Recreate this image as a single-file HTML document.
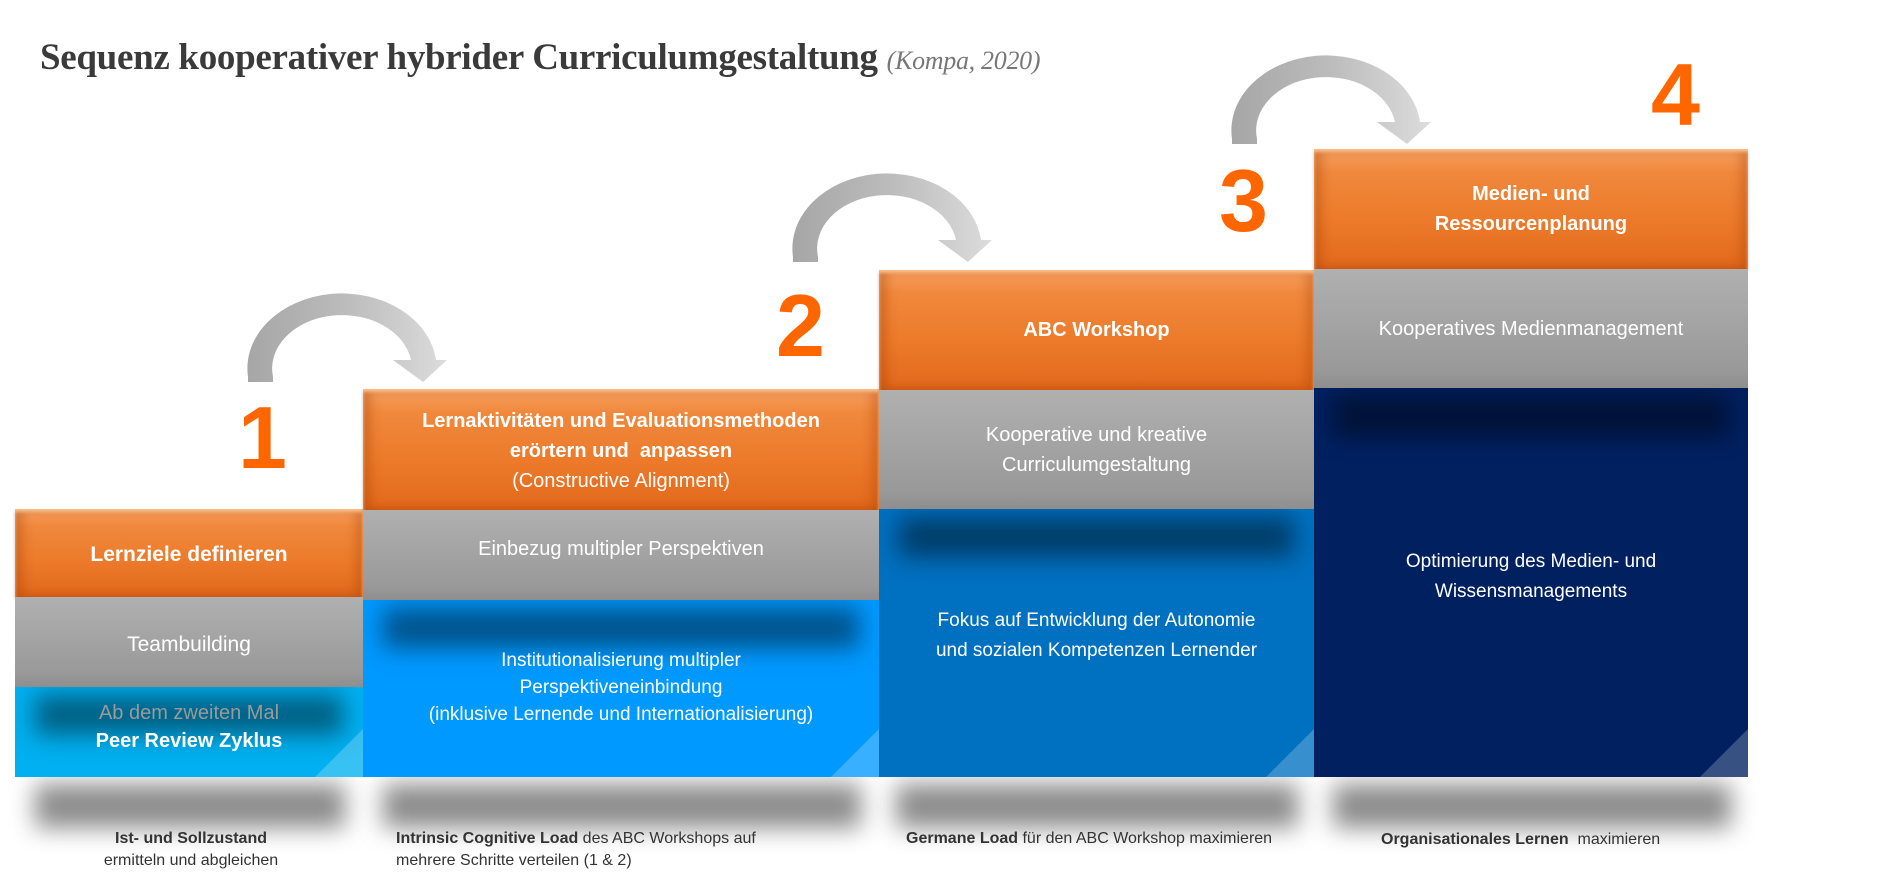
<!DOCTYPE html>
<html><head><meta charset="utf-8"><style>
body{margin:0;width:1899px;height:879px;background:#fff;position:relative;overflow:hidden;font-family:"Liberation Sans",sans-serif}
.a{position:absolute}
.or{position:absolute;background:linear-gradient(#f7a060 0%,#f0883c 20%,#ec7a2a 60%,#e2681c 100%);box-shadow:inset 0 3px 3px #fcc08a,inset 8px 0 10px rgba(160,60,0,.35),inset -8px 0 10px rgba(160,60,0,.3),0 2px 3px rgba(0,0,0,.25)}
.gr{position:absolute;background:linear-gradient(#b0b0b0,#999 85%,#8e8e8e)}
.bl{position:absolute;overflow:hidden}
.bl .sh{position:absolute;left:20px;right:20px;top:8px;height:40px;background:rgba(0,0,0,.45);filter:blur(12px)}
.bl .tri{position:absolute;right:0;bottom:0;width:0;height:0;border-style:solid;border-width:0 0 48px 48px;border-color:transparent transparent rgba(255,255,255,.22) transparent}
.tx{position:absolute;color:#fff;text-align:center;font-family:"Liberation Sans",sans-serif;line-height:30px}
.b{font-weight:bold}
.num{position:absolute;color:#ff6600;font-weight:bold;font-size:88px;line-height:88px;font-family:"Liberation Sans",sans-serif}
.shd{position:absolute;height:44px;background:rgba(0,0,0,.45);filter:blur(12px)}
.lab{position:absolute;font-size:16px;line-height:22px;color:#333}
</style></head><body>
<div class="a" style="left:40px;top:36px;font-family:'Liberation Serif',serif;font-weight:bold;font-size:37px;color:#3a3a3a;white-space:nowrap;letter-spacing:-0.3px">Sequenz kooperativer hybrider Curriculumgestaltung <span style="font-weight:normal;font-style:italic;font-size:26px;color:#777">(Kompa, 2020)</span></div>

<svg class="a" style="left:0;top:0" width="1899" height="879">
<defs><linearGradient id="ag" x1="0" x2="1"><stop offset="0" stop-color="#a6a6a6"/><stop offset="0.5" stop-color="#bcbcbc"/><stop offset="1" stop-color="#dcdcdc"/></linearGradient>
<path id="arr" d="M0,0 L25,0 L25,-5 A68,52 0 0 1 163,-22 L145,-22 L175,0 L199,-22 L188,-22 A92,73 0 0 0 0,-5 Z" fill="url(#ag)"/></defs>
<use href="#arr" transform="translate(248,382)"/>
<use href="#arr" transform="translate(793,262)"/>
<use href="#arr" transform="translate(1232,144)"/>
</svg>

<!-- shadows -->
<div class="shd" style="left:35px;width:310px;top:784px"></div>
<div class="shd" style="left:383px;width:478px;top:784px"></div>
<div class="shd" style="left:896px;width:402px;top:784px"></div>
<div class="shd" style="left:1333px;width:398px;top:784px"></div>

<!-- col1 -->
<div class="or" style="left:15px;top:509px;width:348px;height:88px"></div>
<div class="gr" style="left:15px;top:597px;width:348px;height:90px"></div>
<div class="bl" style="left:15px;top:687px;width:348px;height:90px;background:#00b0f0"><div class="sh"></div><div class="tri"></div></div>
<div class="tx b" style="left:15px;width:348px;top:540px;font-size:21px">Lernziele definieren</div>
<div class="tx" style="left:15px;width:348px;top:630px;font-size:21px">Teambuilding</div>
<div class="tx" style="left:15px;width:348px;top:698px;font-size:20px;color:#9a9a9a">Ab dem zweiten Mal</div>
<div class="tx b" style="left:15px;width:348px;top:726px;font-size:20px">Peer Review Zyklus</div>

<!-- col2 -->
<div class="or" style="left:363px;top:389px;width:516px;height:121px"></div>
<div class="gr" style="left:363px;top:510px;width:516px;height:90px"></div>
<div class="bl" style="left:363px;top:600px;width:516px;height:177px;background:#0099ff"><div class="sh"></div><div class="tri"></div></div>
<div class="tx" style="left:363px;width:516px;top:406px;font-size:20px"><b>Lernaktivitäten und Evaluationsmethoden<br>erörtern und&nbsp; anpassen</b><br>(Constructive Alignment)</div>
<div class="tx" style="left:363px;width:516px;top:534px;font-size:20px">Einbezug multipler Perspektiven</div>
<div class="tx" style="left:363px;width:516px;top:647px;font-size:19px;line-height:27px">Institutionalisierung multipler<br>Perspektiveneinbindung<br>(inklusive Lernende und Internationalisierung)</div>

<!-- col3 -->
<div class="or" style="left:879px;top:270px;width:435px;height:120px"></div>
<div class="gr" style="left:879px;top:390px;width:435px;height:119px"></div>
<div class="bl" style="left:879px;top:509px;width:435px;height:268px;background:#0070c0"><div class="sh"></div><div class="tri"></div></div>
<div class="tx b" style="left:879px;width:435px;top:315px;font-size:20px">ABC Workshop</div>
<div class="tx" style="left:879px;width:435px;top:420px;font-size:20px">Kooperative und kreative<br>Curriculumgestaltung</div>
<div class="tx" style="left:879px;width:435px;top:606px;font-size:19px">Fokus auf Entwicklung der Autonomie<br>und sozialen Kompetenzen Lernender</div>

<!-- col4 -->
<div class="or" style="left:1314px;top:149px;width:434px;height:120px"></div>
<div class="gr" style="left:1314px;top:269px;width:434px;height:119px"></div>
<div class="bl" style="left:1314px;top:388px;width:434px;height:389px;background:#002060"><div class="sh"></div><div class="tri"></div></div>
<div class="tx b" style="left:1314px;width:434px;top:179px;font-size:20px">Medien- und<br>Ressourcenplanung</div>
<div class="tx" style="left:1314px;width:434px;top:314px;font-size:20px">Kooperatives Medienmanagement</div>
<div class="tx" style="left:1314px;width:434px;top:547px;font-size:19px">Optimierung des Medien- und<br>Wissensmanagements</div>

<!-- numbers -->
<div class="num" style="left:238px;top:394px">1</div>
<div class="num" style="left:776px;top:282px">2</div>
<div class="num" style="left:1219px;top:157px">3</div>
<div class="num" style="left:1651px;top:51px">4</div>

<!-- bottom labels -->
<div class="lab" style="left:41px;width:300px;text-align:center;top:828px"><b>Ist- und Sollzustand</b><br>ermitteln und abgleichen</div>
<div class="lab" style="left:396px;top:828px"><b>Intrinsic Cognitive Load</b> des ABC Workshops auf<br>mehrere Schritte verteilen (1 &amp; 2)</div>
<div class="lab" style="left:906px;top:828px"><b>Germane Load</b> für den ABC Workshop maximieren</div>
<div class="lab" style="left:1381px;top:829px"><b>Organisationales Lernen</b>&nbsp; maximieren</div>
</body></html>
